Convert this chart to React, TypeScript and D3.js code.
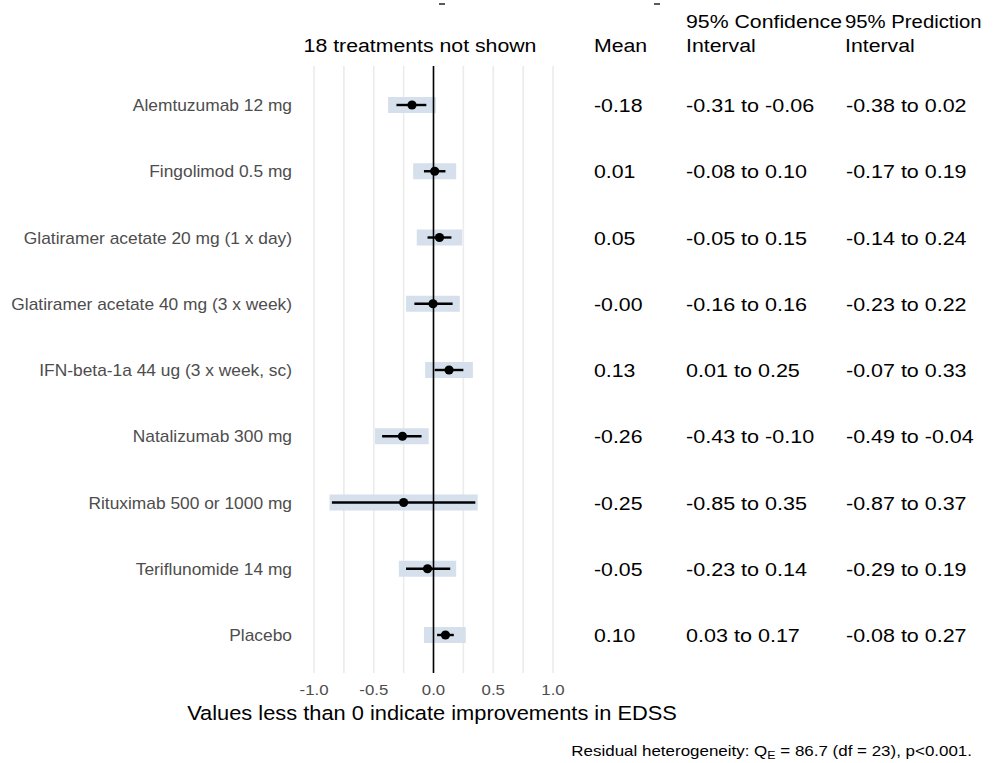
import * as d3 from "d3";

const treatments = [
  "Alemtuzumab 12 mg",
  "Fingolimod 0.5 mg",
  "Glatiramer acetate 20 mg (1 x day)",
  "Glatiramer acetate 40 mg (3 x week)",
  "IFN-beta-1a 44 ug (3 x week, sc)",
  "Natalizumab 300 mg",
  "Rituximab 500 or 1000 mg",
  "Teriflunomide 14 mg",
  "Placebo",
];
const means = [-0.18, 0.01, 0.05, -0.004, 0.13, -0.26, -0.25, -0.05, 0.1];
const ciLow = [-0.31, -0.08, -0.05, -0.16, 0.01, -0.43, -0.85, -0.23, 0.03];
const ciHigh = [-0.06, 0.1, 0.15, 0.16, 0.25, -0.1, 0.35, 0.14, 0.17];
const piLow = [-0.38, -0.17, -0.14, -0.23, -0.07, -0.49, -0.87, -0.29, -0.08];
const piHigh = [0.02, 0.19, 0.24, 0.22, 0.33, -0.04, 0.37, 0.19, 0.27];
const xTicks = [-1, -0.5, 0, 0.5, 1];
const gridTicks = [-1, -0.75, -0.5, -0.25, 0, 0.25, 0.5, 0.75, 1];

const W = 993;
const H = 763;
const FONT = "'Liberation Sans', Arial, sans-serif";

const fmt = (v: number) => v.toFixed(2);

export default function App() {
  const x = d3.scaleLinear().domain([-1, 1]).range([314, 553]);
  const y = d3.scalePoint<string>().domain(treatments).range([105, 635]);
  const top = 66;
  const bottom = 673;
  const sx = 1.12;

  const T = (props: any) => {
    const {x: tx, y: ty, s = sx, children, ...rest} = props;
    return (
      <text transform={`translate(${tx},${ty}) scale(${s},1)`} fontFamily={FONT} {...rest}>
        {children}
      </text>
    );
  };

  return (
    <svg width={W} height={H} style={{position: "absolute", left: 0, top: 0, background: "#fff"}}>
      {/* stray marks at the very top */}
      <line x1={439} x2={445} y1={4} y2={4} stroke="#222" strokeWidth={1.5} />
      <line x1={654} x2={660} y1={4} y2={4} stroke="#222" strokeWidth={1.5} />

      {/* headers */}
      <T x={420} y={52} fontSize={19} textAnchor="middle">18 treatments not shown</T>
      <T x={594} y={52} fontSize={19}>Mean</T>
      <T x={686} y={28} fontSize={19}>95% Confidence</T>
      <T x={686} y={52} fontSize={19}>Interval</T>
      <T x={845} y={28} fontSize={19} s={1.07}>95% Prediction</T>
      <T x={845} y={52} fontSize={19}>Interval</T>

      {/* grid */}
      {gridTicks.map((t) => (
        <line key={t} x1={x(t)} x2={x(t)} y1={top} y2={bottom} stroke="#ebebeb" strokeWidth={1.6} />
      ))}

      {/* prediction bands */}
      {treatments.map((t, i) => (
        <rect key={t} x={x(piLow[i])} width={x(piHigh[i]) - x(piLow[i])} y={y(t)! - 8} height={16} fill="#d5e0ec" />
      ))}

      <line x1={x(0)} x2={x(0)} y1={top} y2={bottom} stroke="#000" strokeWidth={1.6} />

      {/* CI and means */}
      {treatments.map((t, i) => (
        <g key={t}>
          <line x1={x(ciLow[i])} x2={x(ciHigh[i])} y1={y(t)} y2={y(t)} stroke="#000" strokeWidth={2.4} />
          <circle cx={x(means[i])} cy={y(t)} r={4.6} fill="#000" />
        </g>
      ))}

      {/* row labels */}
      {treatments.map((t) => (
        <T key={t} x={292} y={y(t)! + 6} fontSize={16} s={1.085} fill="#4d4d4d" textAnchor="end">{t}</T>
      ))}

      {/* columns */}
      {treatments.map((t, i) => (
        <g key={t}>
          <T x={594} y={y(t)! + 7} fontSize={19}>{fmt(means[i])}</T>
          <T x={686} y={y(t)! + 7} fontSize={19} s={1.135}>{`${fmt(ciLow[i])} to ${fmt(ciHigh[i])}`}</T>
          <T x={846} y={y(t)! + 7} fontSize={19} s={1.13}>{`${fmt(piLow[i])} to ${fmt(piHigh[i])}`}</T>
        </g>
      ))}

      {/* x axis */}
      {xTicks.map((t) => (
        <T key={t} x={x(t)} y={695} fontSize={15} s={1.12} fill="#4d4d4d" textAnchor="middle">{d3.format(".1f")(t).replace("−", "-")}</T>
      ))}
      <T x={432} y={720} fontSize={19.5} textAnchor="middle">Values less than 0 indicate improvements in EDSS</T>

      {/* footnote */}
      <T x={972} y={756} fontSize={15} s={1.13} textAnchor="end">
        Residual heterogeneity: Q<tspan fontSize={11} dy={3}>E</tspan>
        <tspan dy={-3}> = 86.7 (df = 23), p&lt;0.001.</tspan>
      </T>
    </svg>
  );
}
